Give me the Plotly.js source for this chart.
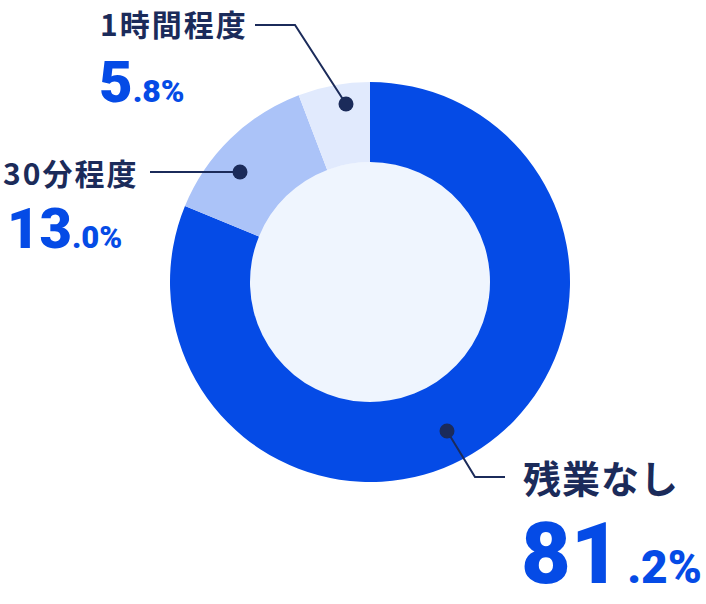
<!DOCTYPE html>
<html>
<head>
<meta charset="utf-8">
<script src="https://cdn.plot.ly/plotly-3.0.1.min.js"></script>
<style>html,body{margin:0;padding:0;background:#fff;}#chart{width:706px;height:604px;}</style>
</head>
<body>
<div id="chart"></div>
<script>
const categories = ['残業なし', '30分程度', '1時間程度'];
const values = [81.2, 13.0, 5.8];
const sliceColors = ['#054BE6', '#ABC3F8', '#E1EAFD'];

const W = 706, H = 604;
const px = x => x / W;
const py = y => 1 - y / H;
const NAVY = '#1B2B5A';
const BLUE = '#054BE6';
const numFont = 'Roboto, Lato, "Open Sans", sans-serif';
const jpFont = '"Noto Sans CJK JP", "Noto Sans", sans-serif';

function numText(v, big, small, gap) {
  const parts = v.toFixed(1).split('.');
  return '<span style="font-size:' + big + 'px">' + parts[0] + '</span>' +
         (gap ? '<span style="font-size:' + gap + 'px"> </span>' : '') +
         '<span style="font-size:' + small + 'px">.' + parts[1] + '%</span>';
}

const trace = {
  type: 'pie',
  labels: categories,
  values: values,
  sort: false,
  direction: 'clockwise',
  rotation: 0,
  hole: 0.6,
  textinfo: 'none',
  hoverinfo: 'label+percent',
  marker: { colors: sliceColors, line: { width: 0 } },
  domain: { x: [px(170), px(570)], y: [py(482), py(82)] }
};

const labelCfg = [
  { i: 0, lx: 521, ly: 476, ls: 38, sp: 1, nx: 519, ny: 553, big: 86, small: 46, gap: 26 },
  { i: 1, lx: 1, ly: 172, ls: 30, sp: 2, nx: 5, ny: 229, big: 56, small: 31, gap: 0 },
  { i: 2, lx: 98, ly: 23, ls: 30, sp: 2, nx: 97, ny: 82, big: 58, small: 32, gap: 0 }
];

const annotations = [];
labelCfg.forEach(c => {
  annotations.push({
    xref: 'paper', yref: 'paper', x: px(c.lx), y: py(c.ly),
    xanchor: 'left', yanchor: 'middle', showarrow: false,
    text: '<span style="letter-spacing:' + c.sp + 'px"><b>' + categories[c.i] + '</b></span>',
    font: { family: jpFont, size: c.ls, color: NAVY }
  });
  annotations.push({
    xref: 'paper', yref: 'paper', x: px(c.nx), y: py(c.ny),
    xanchor: 'left', yanchor: 'middle', showarrow: false,
    text: numText(values[c.i], c.big, c.small, c.gap),
    font: { family: numFont, size: c.big, color: BLUE, weight: 900 }
  });
});

const lineStyle = { color: NAVY, width: 2 };
const dotR = 7.5;
const dots = [[447, 431], [240, 172], [346, 104]];
const shapes = [
  { type: 'circle', xref: 'paper', yref: 'paper', layer: 'below',
    x0: px(250), x1: px(490), y0: py(402), y1: py(162),
    fillcolor: '#EFF5FE', line: { width: 0 } },
  { type: 'path', xref: 'paper', yref: 'paper',
    path: 'M' + px(447) + ',' + py(431) + ' L' + px(475) + ',' + py(477) + ' L' + px(505) + ',' + py(477),
    line: lineStyle },
  { type: 'path', xref: 'paper', yref: 'paper',
    path: 'M' + px(240) + ',' + py(172) + ' L' + px(150) + ',' + py(172),
    line: lineStyle },
  { type: 'path', xref: 'paper', yref: 'paper',
    path: 'M' + px(346) + ',' + py(104) + ' L' + px(295) + ',' + py(25) + ' L' + px(255) + ',' + py(25),
    line: lineStyle }
];
dots.forEach(d => shapes.push({
  type: 'circle', xref: 'paper', yref: 'paper',
  x0: px(d[0] - dotR), x1: px(d[0] + dotR), y0: py(d[1] + dotR), y1: py(d[1] - dotR),
  fillcolor: NAVY, line: { width: 0 }
}));

Plotly.newPlot('chart', [trace], {
  width: W, height: H,
  margin: { l: 0, r: 0, t: 0, b: 0 },
  paper_bgcolor: '#FFFFFF',
  showlegend: false,
  annotations: annotations,
  shapes: shapes
}, { displayModeBar: false, staticPlot: true });
</script>
</body>
</html>
